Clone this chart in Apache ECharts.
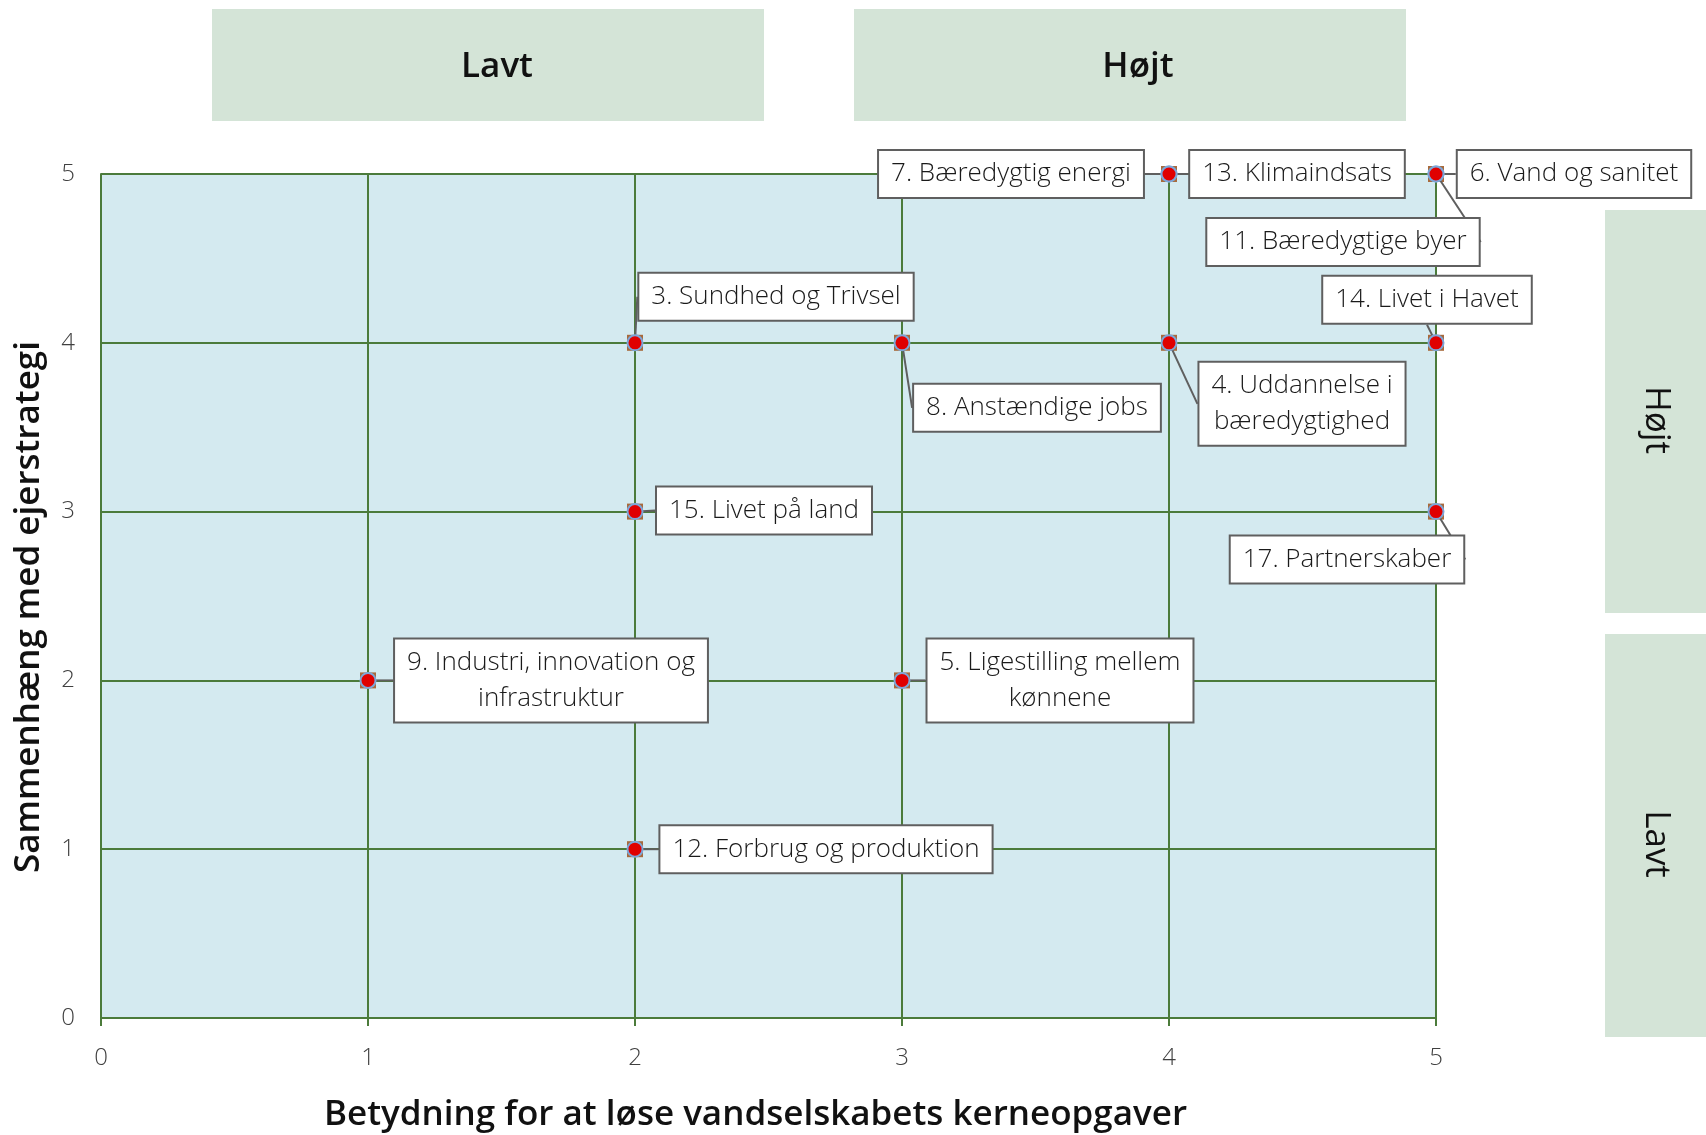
<!DOCTYPE html>
<html>
<head>
<meta charset="utf-8">
<script src="https://cdn.jsdelivr.net/npm/echarts@6/dist/echarts.min.js"></script>
<style>html,body{margin:0;padding:0;background:#fff}#c{width:1706px;height:1135px}</style>
</head>
<body>
<div id="c"></div>
<script>
// ---- data ----
const goalNames = [
  '7. Bæredygtig energi',
  '13. Klimaindsats',
  '6. Vand og sanitet',
  '11. Bæredygtige byer',
  '3. Sundhed og Trivsel',
  '14. Livet i Havet',
  '8. Anstændige jobs',
  '4. Uddannelse i\nbæredygtighed',
  '15. Livet på land',
  '17. Partnerskaber',
  '9. Industri, innovation og\ninfrastruktur',
  '5. Ligestilling mellem\nkønnene',
  '12. Forbrug og produktion'
];
const importance = [4, 4, 5, 5, 2, 5, 3, 4, 2, 5, 1, 3, 2];   // x
const coherence  = [5, 5, 5, 5, 4, 4, 4, 4, 3, 3, 2, 2, 1];   // y
const xTicks = [0, 1, 2, 3, 4, 5];
const yTicks = [0, 1, 2, 3, 4, 5];
const xTitle = 'Betydning for at løse vandselskabets kerneopgaver';
const yTitle = 'Sammenhæng med ejerstrategi';
const topBands = ['Lavt', 'Højt'];
const sideBands = ['Højt', 'Lavt'];

// ---- label callout layout (pixel offsets of box centre from point) ----
const labelOffsets = [
  [-158, 0], [128, 0], [138, 0], [-93, 68],
  [141, -46], [-9, -43], [135, 65], [133, 61],
  [129, -1], [-89, 48], [183, 0], [158, 0], [191, 0]
];

const pts = goalNames.map((n, i) => ({ name: n, value: [importance[i], coherence[i]] }));

const green = '#4b7b3b';
const chart = echarts.init(document.getElementById('c'), null, { renderer: 'canvas' });
const font = '"Open Sans", "Noto Sans", sans-serif';

chart.setOption({
  animation: false,
  grid: { left: 101, right: 270, top: 174, bottom: 117, show: true, backgroundColor: '#d4eaf0', borderWidth: 0,
          containLabel: false, outerBoundsMode: 'none' },
  xAxis: {
    type: 'value', min: xTicks[0], max: xTicks[xTicks.length - 1], interval: 1,
    name: xTitle, nameLocation: 'middle', nameGap: 80,
    nameTextStyle: { fontSize: 35, fontWeight: 600, color: '#111', fontFamily: font, padding: [0, 26, 0, 0] },
    axisLine: { show: true, lineStyle: { color: green, width: 2 } },
    axisTick: { show: true, length: 8, lineStyle: { color: green, width: 2 } },
    axisLabel: { fontSize: 24, fontWeight: 300, color: '#404040', margin: 28, fontFamily: font },
    splitLine: { show: true, lineStyle: { color: green, width: 2 } }
  },
  yAxis: {
    type: 'value', min: yTicks[0], max: yTicks[yTicks.length - 1], interval: 1,
    name: yTitle, nameLocation: 'middle', nameGap: 54, nameRotate: 90,
    nameTextStyle: { fontSize: 35, fontWeight: 600, color: '#111', fontFamily: font, padding: [0, 22, 0, 0] },
    axisLine: { show: true, lineStyle: { color: green, width: 2 } },
    axisTick: { show: false },
    axisLabel: { fontSize: 24, fontWeight: 300, color: '#404040', margin: 26, fontFamily: font },
    splitLine: { show: true, lineStyle: { color: green, width: 2 } }
  },
  graphic: [
    { type: 'rect', shape: { x: 212, y: 9, width: 552, height: 112 }, style: { fill: '#d4e4d7' } },
    { type: 'text', x: 497, y: 67, style: { text: topBands[0], font: '600 35px ' + font, fill: '#111', textAlign: 'center', textVerticalAlign: 'middle' } },
    { type: 'rect', shape: { x: 854, y: 9, width: 552, height: 112 }, style: { fill: '#d4e4d7' } },
    { type: 'text', x: 1138, y: 67, style: { text: topBands[1], font: '600 35px ' + font, fill: '#111', textAlign: 'center', textVerticalAlign: 'middle' } },
    { type: 'rect', shape: { x: 1605, y: 210, width: 101, height: 403 }, style: { fill: '#d4e4d7' } },
    { type: 'text', x: 1656, y: 420, rotation: -Math.PI / 2, style: { text: sideBands[0], font: '35px ' + font, fill: '#111', textAlign: 'center', textVerticalAlign: 'middle' } },
    { type: 'rect', shape: { x: 1605, y: 634, width: 101, height: 403 }, style: { fill: '#d4e4d7' } },
    { type: 'text', x: 1656, y: 844, rotation: -Math.PI / 2, style: { text: sideBands[1], font: '35px ' + font, fill: '#111', textAlign: 'center', textVerticalAlign: 'middle' } }
  ],
  series: [
    {
      type: 'scatter', symbol: 'rect', symbolSize: 16, silent: true, z: 3,
      itemStyle: { color: '#a86a3c', opacity: 1 },
      data: pts.map(p => p.value)
    },
    {
      type: 'scatter', symbol: 'circle', symbolSize: 15, z: 4,
      itemStyle: { color: '#e00000', borderColor: '#7da6d8', borderWidth: 2, opacity: 1 },
      data: pts,
      label: {
        show: true, position: 'inside', formatter: '{b}', opacity: 1,
        fontFamily: font, fontSize: 26, fontWeight: 300, color: '#1a1a1a', lineHeight: 36,
        align: 'center', verticalAlign: 'middle',
        backgroundColor: '#ffffff', borderColor: '#5f5f5f', borderWidth: 2,
        padding: [5, 12]
      },
      labelLine: { show: true, lineStyle: { color: '#5f5f5f', width: 2, opacity: 1 } },
      labelLayout: function (params) {
        const o = labelOffsets[params.dataIndex];
        return { dx: o[0], dy: o[1] };
      }
    }
  ]
});
</script>
</body>
</html>
